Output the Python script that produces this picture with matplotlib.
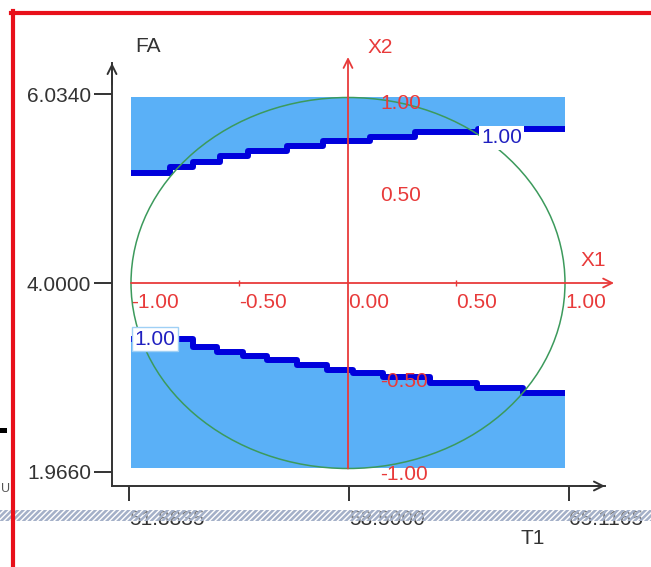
import matplotlib.pyplot as plt
from matplotlib.patches import Circle, Rectangle
from matplotlib.lines import Line2D

plt.rcParams['font.family'] = ['Liberation Sans', 'DejaVu Sans']
plt.rcParams['hatch.linewidth'] = 1.8

W, H = 651, 567

# real-unit axes (T1 / FA)
t1_ticks = [51.8835, 58.5000, 65.1165]
fa_ticks = [1.9660, 4.0000, 6.0340]
t1_labels = ["51.8835", "58.5000", "65.1165"]
fa_labels = ["1.9660", "4.0000", "6.0340"]

# coded axes (X1 / X2)
x1_ticks = [-1.0, -0.5, 0.0, 0.5, 1.0]
x1_labels = ["-1.00", "-0.50", "0.00", "0.50", "1.00"]
x2_ticks = [1.0, 0.5, -0.5, -1.0]
x2_labels = ["1.00", "0.50", "-0.50", "-1.00"]

# contour = 1.00, upper branch (step starts in X1, level in X2)
upper_x1 = [-1.0, -0.82, -0.714, -0.59, -0.461, -0.281, -0.115, 0.101, 0.309, 0.599, 1.0]
upper_x2 = [0.593, 0.625, 0.652, 0.685, 0.712, 0.739, 0.765, 0.787, 0.814, 0.830, 0.830]

# contour = 1.00, lower branch
lower_x1 = [-1.0, -0.714, -0.604, -0.484, -0.373, -0.235, -0.097, 0.023, 0.161, 0.378, 0.594, 0.806, 1.0]
lower_x2 = [-0.302, -0.345, -0.372, -0.394, -0.415, -0.442, -0.469, -0.485, -0.507, -0.539, -0.566, -0.593, -0.593]

RED = '#e83a3a'
BLUE_FILL = '#5ab0f7'
BLUE_LINE = '#0000dc'
GREEN = '#3c9a5c'
DARK = '#333333'
FS = 15

fig = plt.figure(figsize=(W / 100, H / 100), dpi=100)

# ---- real axes ----
ax = fig.add_axes([112 / W, (H - 486) / H, (605 - 112) / W, (486 - 63) / H])
ax.set_xlim(51.372, 66.199)
ax.set_ylim(1.815, 6.368)
ax.patch.set_alpha(0)
for s in ['top', 'right']:
    ax.spines[s].set_visible(False)
for s in ['left', 'bottom']:
    ax.spines[s].set_color(DARK)
    ax.spines[s].set_linewidth(1.4)
ax.set_xticks(t1_ticks, t1_labels)
ax.set_yticks(fa_ticks, fa_labels)
ax.tick_params(axis='y', direction='out', length=13, width=1.4, pad=2,
               labelsize=FS, colors=DARK)
ax.tick_params(axis='x', direction='out', length=11, width=1.4, pad=6,
               labelsize=FS, colors=DARK)
plt.setp(ax.get_xticklabels(), ha='left')
ax.annotate('', xy=(1, 0), xytext=(0.95, 0), xycoords='axes fraction',
            arrowprops=dict(arrowstyle='->', color=DARK, lw=1.4, shrinkA=0, shrinkB=0,
                            mutation_scale=16))
ax.annotate('', xy=(0, 1), xytext=(0, 0.95), xycoords='axes fraction',
            arrowprops=dict(arrowstyle='->', color=DARK, lw=1.4, shrinkA=0, shrinkB=0,
                            mutation_scale=16))

# ---- coded axes overlay ----
axc = fig.add_axes([0, 0, 1, 1])
axc.set_xlim(-348 / 217, (W - 348) / 217)
axc.set_ylim((283 - H) / 185.5, 283 / 185.5)
axc.axis('off')
axc.patch.set_alpha(0)

axc.fill_between(upper_x1, upper_x2, 1.0, step='post', color=BLUE_FILL, lw=0, zorder=1)
axc.fill_between(lower_x1, -1.0, lower_x2, step='post', color=BLUE_FILL, lw=0, zorder=1)
axc.step(upper_x1, upper_x2, where='post', color=BLUE_LINE, lw=4.3, zorder=2,
         solid_capstyle='butt')
axc.step(lower_x1, lower_x2, where='post', color=BLUE_LINE, lw=4.3, zorder=2,
         solid_capstyle='butt')

axc.add_patch(Circle((0, 0), 1.0, fill=False, ec=GREEN, lw=1.1, zorder=3))

axc.annotate('', xy=(1.226, 0), xytext=(-1.0, 0),
             arrowprops=dict(arrowstyle='->', color=RED, lw=1.3, shrinkA=0, shrinkB=0,
                             mutation_scale=16), zorder=4)
axc.annotate('', xy=(0, 1.218), xytext=(0, -1.0),
             arrowprops=dict(arrowstyle='->', color=RED, lw=1.3, shrinkA=0, shrinkB=0,
                             mutation_scale=16), zorder=4)
axc.plot([-0.5, 0.5], [0, 0], ls='none', marker='|', ms=5, color=RED, zorder=4)

for v, lab in zip(x1_ticks, x1_labels):
    axc.annotate(lab, (v, 0), xytext=(0, -14), textcoords='offset points',
                 ha='left', va='center', color=RED, fontsize=FS, zorder=5)
for v, lab in zip(x2_ticks, x2_labels):
    axc.annotate(lab, (0.147, v), xytext=(0, -4), textcoords='offset points',
                 ha='left', va='center', color=RED, fontsize=FS, zorder=5)
axc.text(1.13, 0.12, 'X1', color=RED, fontsize=FS, ha='center', va='center')
axc.text(0.147, 1.27, 'X2', color=RED, fontsize=FS, ha='center', va='center')

axc.text(0.613, 0.782, '1.00', color='#2020c0', fontsize=FS, ha='left', va='center',
         zorder=6, bbox=dict(boxstyle='square,pad=0.1', fc='white', ec='none'))
axc.text(-0.985, -0.302, '1.00', color='#2020c0', fontsize=FS, ha='left', va='center',
         zorder=6, bbox=dict(boxstyle='square,pad=0.12', fc='white', ec='#9fd0f5', lw=1))

# ---- axis titles ----
fig.text(148 / W, 1 - 47 / H, 'FA', fontsize=FS, color=DARK, ha='center', va='center')
fig.text(533 / W, 1 - 538 / H, 'T1', fontsize=FS, color=DARK, ha='center', va='center')

# ---- screenshot frame and artefacts ----
fig.add_artist(Line2D([13 / W, 13 / W], [0, 1 - 11 / H], color='#e8101a', lw=3))
fig.add_artist(Line2D([11 / W, 1], [1 - 13 / H, 1 - 13 / H], color='#e8101a', lw=3))
fig.add_artist(Rectangle((0, 1 - 433 / H), 7 / W, 5 / H, transform=fig.transFigure,
                         fc='black', ec='none'))
fig.text(1 / W, 1 - 489 / H, 'U', fontsize=9, color='#555555', ha='left', va='center')
fig.add_artist(Rectangle((0, 1 - 521 / H), 1, 11 / H, transform=fig.transFigure,
                         fc=(1, 1, 1, 0.35), ec='#a4b0c8', lw=0, hatch='//////'))

fig.savefig('out.png', dpi=100)
